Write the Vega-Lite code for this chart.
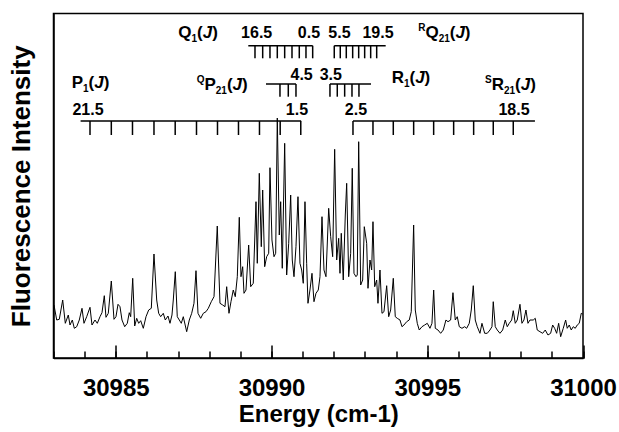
{
  "$schema": "https://vega.github.io/schema/vega-lite/v6.json",
  "width": 529.5,
  "height": 344.5,
  "autosize": {"type": "none"},
  "padding": {"left": 53.5, "top": 13.5, "right": 36, "bottom": 74},
  "background": "white",
  "config": {
    "font": "Liberation Sans",
    "view": {"stroke": "black", "strokeWidth": 1.5},
    "axis": {"domainColor": "black", "domainWidth": 1.5, "tickColor": "black", "tickWidth": 1.5, "labelColor": "black", "titleColor": "black", "grid": false}
  },
  "resolve": {"scale": {"x": "shared", "y": "shared"}, "axis": {"x": "independent"}},
  "datasets": {
    "spectrum": [
      {"energy": 30983.016, "intensity": 53}, {"energy": 30983.103, "intensity": 38}, {"energy": 30983.186, "intensity": 38.7}, {"energy": 30983.295, "intensity": 58},
      {"energy": 30983.379, "intensity": 34.7}, {"energy": 30983.475, "intensity": 43}, {"energy": 30983.530, "intensity": 33}, {"energy": 30983.604, "intensity": 38},
      {"energy": 30983.668, "intensity": 29.7}, {"energy": 30983.745, "intensity": 31.3}, {"energy": 30983.828, "intensity": 38}, {"energy": 30983.915, "intensity": 49.7},
      {"energy": 30983.979, "intensity": 34.7}, {"energy": 30984.066, "intensity": 41.3}, {"energy": 30984.172, "intensity": 50.7}, {"energy": 30984.236, "intensity": 33},
      {"energy": 30984.332, "intensity": 38}, {"energy": 30984.406, "intensity": 34.7}, {"energy": 30984.493, "intensity": 41.3}, {"energy": 30984.557, "intensity": 45.3},
      {"energy": 30984.631, "intensity": 62.3}, {"energy": 30984.685, "intensity": 40.7}, {"energy": 30984.759, "intensity": 44.7}, {"energy": 30984.856, "intensity": 77},
      {"energy": 30984.942, "intensity": 38.7}, {"energy": 30985.006, "intensity": 41.3}, {"energy": 30985.071, "intensity": 53.7}, {"energy": 30985.135, "intensity": 51.3},
      {"energy": 30985.199, "intensity": 38}, {"energy": 30985.286, "intensity": 31.3}, {"energy": 30985.369, "intensity": 34.7}, {"energy": 30985.433, "intensity": 45.3},
      {"energy": 30985.478, "intensity": 41.3}, {"energy": 30985.543, "intensity": 79.7}, {"energy": 30985.607, "intensity": 32}, {"energy": 30985.671, "intensity": 39.7},
      {"energy": 30985.735, "intensity": 34.7}, {"energy": 30985.799, "intensity": 37.3}, {"energy": 30985.883, "intensity": 29.7}, {"energy": 30985.970, "intensity": 41.3},
      {"energy": 30986.056, "intensity": 48}, {"energy": 30986.140, "intensity": 49.7}, {"energy": 30986.226, "intensity": 104}, {"energy": 30986.313, "intensity": 58},
      {"energy": 30986.377, "intensity": 44.7}, {"energy": 30986.441, "intensity": 41.3}, {"energy": 30986.525, "intensity": 44.7}, {"energy": 30986.589, "intensity": 38},
      {"energy": 30986.676, "intensity": 42}, {"energy": 30986.740, "intensity": 34.7}, {"energy": 30986.804, "intensity": 43}, {"energy": 30986.846, "intensity": 58},
      {"energy": 30986.910, "intensity": 86.3}, {"energy": 30986.974, "intensity": 41.3}, {"energy": 30987.039, "intensity": 38}, {"energy": 30987.103, "intensity": 34.7},
      {"energy": 30987.167, "intensity": 41.3}, {"energy": 30987.276, "intensity": 26.3}, {"energy": 30987.360, "intensity": 38}, {"energy": 30987.437, "intensity": 44.7},
      {"energy": 30987.510, "intensity": 54.7}, {"energy": 30987.575, "intensity": 87.3}, {"energy": 30987.639, "intensity": 44.7}, {"energy": 30987.726, "intensity": 39.7},
      {"energy": 30987.809, "intensity": 44.7}, {"energy": 30987.896, "intensity": 46.3}, {"energy": 30987.970, "intensity": 49.7}, {"energy": 30988.066, "intensity": 56.3},
      {"energy": 30988.153, "intensity": 61.3}, {"energy": 30988.258, "intensity": 132}, {"energy": 30988.345, "intensity": 54.7}, {"energy": 30988.432, "intensity": 53},
      {"energy": 30988.506, "intensity": 51.3}, {"energy": 30988.560, "intensity": 71.3}, {"energy": 30988.634, "intensity": 44.7}, {"energy": 30988.698, "intensity": 56.3},
      {"energy": 30988.772, "intensity": 68}, {"energy": 30988.836, "intensity": 61.3}, {"energy": 30988.901, "intensity": 81.3}, {"energy": 30988.965, "intensity": 140.7},
      {"energy": 30989.019, "intensity": 81.3}, {"energy": 30989.074, "intensity": 91.3}, {"energy": 30989.116, "intensity": 64.7}, {"energy": 30989.180, "intensity": 68},
      {"energy": 30989.266, "intensity": 113}, {"energy": 30989.331, "intensity": 71.3}, {"energy": 30989.414, "intensity": 74.7}, {"energy": 30989.501, "intensity": 156.3},
      {"energy": 30989.543, "intensity": 94.7}, {"energy": 30989.607, "intensity": 184.7}, {"energy": 30989.671, "intensity": 111.3}, {"energy": 30989.716, "intensity": 168},
      {"energy": 30989.780, "intensity": 91.3}, {"energy": 30989.844, "intensity": 101.3}, {"energy": 30989.909, "intensity": 104.7}, {"energy": 30989.950, "intensity": 190.3},
      {"energy": 30990.014, "intensity": 118}, {"energy": 30990.079, "intensity": 101.3}, {"energy": 30990.133, "intensity": 104.7}, {"energy": 30990.185, "intensity": 240},
      {"energy": 30990.249, "intensity": 123}, {"energy": 30990.294, "intensity": 156.3}, {"energy": 30990.345, "intensity": 89.7}, {"energy": 30990.422, "intensity": 214.7},
      {"energy": 30990.486, "intensity": 83}, {"energy": 30990.551, "intensity": 114.7}, {"energy": 30990.615, "intensity": 163}, {"energy": 30990.666, "intensity": 98},
      {"energy": 30990.721, "intensity": 81.3}, {"energy": 30990.785, "intensity": 111.3}, {"energy": 30990.849, "intensity": 161.3}, {"energy": 30990.913, "intensity": 94.7},
      {"energy": 30990.968, "intensity": 88}, {"energy": 30991.019, "intensity": 74.7}, {"energy": 30991.074, "intensity": 156.3}, {"energy": 30991.128, "intensity": 94.7},
      {"energy": 30991.170, "intensity": 54.7}, {"energy": 30991.234, "intensity": 68}, {"energy": 30991.299, "intensity": 84.7}, {"energy": 30991.363, "intensity": 56.3},
      {"energy": 30991.427, "intensity": 64.7}, {"energy": 30991.501, "intensity": 68}, {"energy": 30991.556, "intensity": 81.3}, {"energy": 30991.620, "intensity": 141.3},
      {"energy": 30991.684, "intensity": 88}, {"energy": 30991.748, "intensity": 81.3}, {"energy": 30991.835, "intensity": 149.7}, {"energy": 30991.899, "intensity": 121.3},
      {"energy": 30991.963, "intensity": 101.3}, {"energy": 30992.027, "intensity": 208.7}, {"energy": 30992.092, "intensity": 98}, {"energy": 30992.156, "intensity": 119.7},
      {"energy": 30992.198, "intensity": 84.7}, {"energy": 30992.239, "intensity": 124.7}, {"energy": 30992.303, "intensity": 78}, {"energy": 30992.368, "intensity": 143},
      {"energy": 30992.413, "intensity": 174.7}, {"energy": 30992.477, "intensity": 81.3}, {"energy": 30992.541, "intensity": 104.7}, {"energy": 30992.592, "intensity": 189.7},
      {"energy": 30992.647, "intensity": 84.7}, {"energy": 30992.711, "intensity": 81.3}, {"energy": 30992.753, "intensity": 83}, {"energy": 30992.798, "intensity": 216.3},
      {"energy": 30992.862, "intensity": 73}, {"energy": 30992.926, "intensity": 78}, {"energy": 30992.978, "intensity": 131.3}, {"energy": 30993.055, "intensity": 114.7},
      {"energy": 30993.097, "intensity": 69.7}, {"energy": 30993.161, "intensity": 98}, {"energy": 30993.215, "intensity": 88}, {"energy": 30993.257, "intensity": 136.3},
      {"energy": 30993.312, "intensity": 71.3}, {"energy": 30993.376, "intensity": 78}, {"energy": 30993.417, "intensity": 54.7}, {"energy": 30993.482, "intensity": 88},
      {"energy": 30993.546, "intensity": 44.7}, {"energy": 30993.610, "intensity": 46.3}, {"energy": 30993.697, "intensity": 72.3}, {"energy": 30993.761, "intensity": 41.3},
      {"energy": 30993.825, "intensity": 48}, {"energy": 30993.909, "intensity": 79.7}, {"energy": 30993.973, "intensity": 41.3}, {"energy": 30994.037, "intensity": 39.7},
      {"energy": 30994.124, "intensity": 38}, {"energy": 30994.188, "intensity": 31.3}, {"energy": 30994.252, "intensity": 33}, {"energy": 30994.339, "intensity": 36.3},
      {"energy": 30994.422, "intensity": 38}, {"energy": 30994.486, "intensity": 46.3}, {"energy": 30994.563, "intensity": 133}, {"energy": 30994.615, "intensity": 48},
      {"energy": 30994.679, "intensity": 34.7}, {"energy": 30994.743, "intensity": 28}, {"energy": 30994.830, "intensity": 31.3}, {"energy": 30994.917, "intensity": 33},
      {"energy": 30995.000, "intensity": 34.7}, {"energy": 30995.087, "intensity": 29.7}, {"energy": 30995.151, "intensity": 34.7}, {"energy": 30995.206, "intensity": 68},
      {"energy": 30995.257, "intensity": 29.7}, {"energy": 30995.344, "intensity": 28}, {"energy": 30995.430, "intensity": 24.7}, {"energy": 30995.514, "intensity": 28},
      {"energy": 30995.600, "intensity": 38}, {"energy": 30995.665, "intensity": 36.3}, {"energy": 30995.751, "intensity": 38}, {"energy": 30995.825, "intensity": 65.3},
      {"energy": 30995.899, "intensity": 38}, {"energy": 30995.963, "intensity": 41.3}, {"energy": 30996.028, "intensity": 31.3}, {"energy": 30996.114, "intensity": 29.7},
      {"energy": 30996.201, "intensity": 31.3}, {"energy": 30996.265, "intensity": 29.7}, {"energy": 30996.348, "intensity": 34.7}, {"energy": 30996.413, "intensity": 48},
      {"energy": 30996.477, "intensity": 72.3}, {"energy": 30996.541, "intensity": 38}, {"energy": 30996.605, "intensity": 31.3}, {"energy": 30996.692, "intensity": 24.7},
      {"energy": 30996.756, "intensity": 34.7}, {"energy": 30996.843, "intensity": 24.7}, {"energy": 30996.926, "intensity": 24.7}, {"energy": 30997.013, "intensity": 28},
      {"energy": 30997.077, "intensity": 31.3}, {"energy": 30997.119, "intensity": 56.3}, {"energy": 30997.183, "intensity": 31.3}, {"energy": 30997.247, "intensity": 28},
      {"energy": 30997.334, "intensity": 24.7}, {"energy": 30997.421, "intensity": 28}, {"energy": 30997.504, "intensity": 38}, {"energy": 30997.568, "intensity": 31.3},
      {"energy": 30997.633, "intensity": 34.7}, {"energy": 30997.710, "intensity": 38}, {"energy": 30997.761, "intensity": 47.3}, {"energy": 30997.825, "intensity": 34.7},
      {"energy": 30997.889, "intensity": 38}, {"energy": 30997.976, "intensity": 53.7}, {"energy": 30998.040, "intensity": 34.7}, {"energy": 30998.104, "intensity": 38},
      {"energy": 30998.168, "intensity": 48}, {"energy": 30998.233, "intensity": 34.7}, {"energy": 30998.297, "intensity": 38}, {"energy": 30998.403, "intensity": 38},
      {"energy": 30998.467, "intensity": 39.7}, {"energy": 30998.531, "intensity": 28}, {"energy": 30998.618, "intensity": 26.3}, {"energy": 30998.705, "intensity": 24.7},
      {"energy": 30998.788, "intensity": 28}, {"energy": 30998.875, "intensity": 23}, {"energy": 30998.961, "intensity": 24.7}, {"energy": 30999.026, "intensity": 33},
      {"energy": 30999.090, "intensity": 29.7}, {"energy": 30999.154, "intensity": 24.7}, {"energy": 30999.218, "intensity": 34.7}, {"energy": 30999.283, "intensity": 21.3},
      {"energy": 30999.366, "intensity": 29.7}, {"energy": 30999.443, "intensity": 38}, {"energy": 30999.494, "intensity": 29.7}, {"energy": 30999.559, "intensity": 33},
      {"energy": 30999.623, "intensity": 28}, {"energy": 30999.687, "intensity": 31.3}, {"energy": 30999.751, "intensity": 29.7}, {"energy": 30999.815, "intensity": 33},
      {"energy": 30999.880, "intensity": 34.7}, {"energy": 30999.944, "intensity": 44.7}, {"energy": 30999.989, "intensity": 44}
    ],
    "combs": [
      {"branch": "P1", "start": 30983.87, "end": 30990.95, "level": 237},
      {"branch": "R1", "start": 30992.615, "end": 30998.457, "level": 237},
      {"branch": "Q1", "start": 30989.254, "end": 30991.321, "level": 312.3},
      {"branch": "RQ21", "start": 30992.014, "end": 30993.665, "level": 312.3},
      {"branch": "QP21", "start": 30989.822, "end": 30990.785, "level": 274},
      {"branch": "R1b", "start": 30991.876, "end": 30993.193, "level": 274}
    ],
    "lines": [
      {"branch": "P1", "energy": 30984.172, "top": 237, "bottom": 223}, {"branch": "P1", "energy": 30984.856, "top": 237, "bottom": 223},
      {"branch": "P1", "energy": 30985.536, "top": 237, "bottom": 223}, {"branch": "P1", "energy": 30986.226, "top": 237, "bottom": 223},
      {"branch": "P1", "energy": 30986.907, "top": 237, "bottom": 223}, {"branch": "P1", "energy": 30987.591, "top": 237, "bottom": 223},
      {"branch": "P1", "energy": 30988.265, "top": 237, "bottom": 223}, {"branch": "P1", "energy": 30988.939, "top": 237, "bottom": 223},
      {"branch": "P1", "energy": 30989.613, "top": 237, "bottom": 223}, {"branch": "P1", "energy": 30990.278, "top": 237, "bottom": 223},
      {"branch": "P1", "energy": 30990.939, "top": 237, "bottom": 223},
      {"branch": "R1", "energy": 30992.615, "top": 237, "bottom": 223}, {"branch": "R1", "energy": 30993.257, "top": 237, "bottom": 223},
      {"branch": "R1", "energy": 30993.909, "top": 237, "bottom": 223}, {"branch": "R1", "energy": 30994.563, "top": 237, "bottom": 223},
      {"branch": "R1", "energy": 30995.205, "top": 237, "bottom": 223}, {"branch": "R1", "energy": 30995.847, "top": 237, "bottom": 223},
      {"branch": "R1", "energy": 30996.489, "top": 237, "bottom": 223}, {"branch": "R1", "energy": 30997.119, "top": 237, "bottom": 223},
      {"branch": "R1", "energy": 30997.761, "top": 237, "bottom": 223},
      {"branch": "Q1", "energy": 30989.469, "top": 312.3, "bottom": 299.7}, {"branch": "Q1", "energy": 30989.716, "top": 312.3, "bottom": 299.7},
      {"branch": "Q1", "energy": 30989.950, "top": 312.3, "bottom": 299.7}, {"branch": "Q1", "energy": 30990.185, "top": 312.3, "bottom": 299.7},
      {"branch": "Q1", "energy": 30990.422, "top": 312.3, "bottom": 299.7}, {"branch": "Q1", "energy": 30990.657, "top": 312.3, "bottom": 299.7},
      {"branch": "Q1", "energy": 30990.891, "top": 312.3, "bottom": 299.7}, {"branch": "Q1", "energy": 30991.106, "top": 312.3, "bottom": 299.7},
      {"branch": "Q1", "energy": 30991.321, "top": 312.3, "bottom": 299.7},
      {"branch": "RQ21", "energy": 30992.014, "top": 312.3, "bottom": 299.7}, {"branch": "RQ21", "energy": 30992.207, "top": 312.3, "bottom": 299.7},
      {"branch": "RQ21", "energy": 30992.400, "top": 312.3, "bottom": 299.7}, {"branch": "RQ21", "energy": 30992.605, "top": 312.3, "bottom": 299.7},
      {"branch": "RQ21", "energy": 30992.798, "top": 312.3, "bottom": 299.7}, {"branch": "RQ21", "energy": 30992.990, "top": 312.3, "bottom": 299.7},
      {"branch": "RQ21", "energy": 30993.183, "top": 312.3, "bottom": 299.7}, {"branch": "RQ21", "energy": 30993.376, "top": 312.3, "bottom": 299.7},
      {"branch": "QP21", "energy": 30990.271, "top": 274, "bottom": 261.3}, {"branch": "QP21", "energy": 30990.538, "top": 274, "bottom": 261.3},
      {"branch": "QP21", "energy": 30990.785, "top": 274, "bottom": 261.3},
      {"branch": "R1b", "energy": 30991.876, "top": 274, "bottom": 261.3}, {"branch": "R1b", "energy": 30992.111, "top": 274, "bottom": 261.3},
      {"branch": "R1b", "energy": 30992.348, "top": 274, "bottom": 261.3}, {"branch": "R1b", "energy": 30992.583, "top": 274, "bottom": 261.3},
      {"branch": "R1b", "energy": 30992.807, "top": 274, "bottom": 261.3}
    ],
    "jvalues": [
      {"text": "21.5", "energy": 30984.108, "intensity": 243},
      {"text": "1.5", "energy": 30990.817, "intensity": 243},
      {"text": "2.5", "energy": 30992.711, "intensity": 243},
      {"text": "18.5", "energy": 30997.783, "intensity": 243},
      {"text": "16.5", "energy": 30989.523, "intensity": 319.7},
      {"text": "0.5", "energy": 30991.202, "intensity": 319.7},
      {"text": "5.5", "energy": 30992.181, "intensity": 319.7},
      {"text": "19.5", "energy": 30993.417, "intensity": 319.7},
      {"text": "4.5", "energy": 30990.967, "intensity": 278},
      {"text": "3.5", "energy": 30991.902, "intensity": 278}
    ],
    "names": [
      {"branch": "Q1", "part": "main", "text": "Q", "energy": 30987.006, "intensity": 320.5},
      {"branch": "Q1", "part": "index", "text": "1", "energy": 30987.430, "intensity": 316.5},
      {"branch": "Q1", "part": "main", "text": "(", "energy": 30987.610, "intensity": 320.5},
      {"branch": "Q1", "part": "variable", "text": "J", "energy": 30987.793, "intensity": 320.5},
      {"branch": "Q1", "part": "main", "text": ")", "energy": 30988.098, "intensity": 320.5},
      {"branch": "RQ21", "part": "index", "text": "R", "energy": 30994.711, "intensity": 327.5},
      {"branch": "RQ21", "part": "main", "text": "Q", "energy": 30994.942, "intensity": 320.5},
      {"branch": "RQ21", "part": "index", "text": "21", "energy": 30995.366, "intensity": 316.5},
      {"branch": "RQ21", "part": "main", "text": "(", "energy": 30995.722, "intensity": 320.5},
      {"branch": "RQ21", "part": "variable", "text": "J", "energy": 30995.905, "intensity": 320.5},
      {"branch": "RQ21", "part": "main", "text": ")", "energy": 30996.207, "intensity": 320.5},
      {"branch": "P1", "part": "main", "text": "P", "energy": 30983.584, "intensity": 269.7},
      {"branch": "P1", "part": "index", "text": "1", "energy": 30983.947, "intensity": 265.7},
      {"branch": "P1", "part": "main", "text": "(", "energy": 30984.127, "intensity": 269.7},
      {"branch": "P1", "part": "variable", "text": "J", "energy": 30984.310, "intensity": 269.7},
      {"branch": "P1", "part": "main", "text": ")", "energy": 30984.612, "intensity": 269.7},
      {"branch": "QP21", "part": "index", "text": "Q", "energy": 30987.597, "intensity": 275},
      {"branch": "QP21", "part": "main", "text": "P", "energy": 30987.848, "intensity": 268},
      {"branch": "QP21", "part": "index", "text": "21", "energy": 30988.210, "intensity": 264},
      {"branch": "QP21", "part": "main", "text": "(", "energy": 30988.567, "intensity": 268},
      {"branch": "QP21", "part": "variable", "text": "J", "energy": 30988.750, "intensity": 268},
      {"branch": "QP21", "part": "main", "text": ")", "energy": 30989.051, "intensity": 268},
      {"branch": "R1", "part": "main", "text": "R", "energy": 30993.857, "intensity": 274.7},
      {"branch": "R1", "part": "index", "text": "1", "energy": 30994.252, "intensity": 270.7},
      {"branch": "R1", "part": "main", "text": "(", "energy": 30994.429, "intensity": 274.7},
      {"branch": "R1", "part": "variable", "text": "J", "energy": 30994.612, "intensity": 274.7},
      {"branch": "R1", "part": "main", "text": ")", "energy": 30994.913, "intensity": 274.7},
      {"branch": "SR21", "part": "index", "text": "S", "energy": 30996.852, "intensity": 275},
      {"branch": "SR21", "part": "main", "text": "R", "energy": 30997.067, "intensity": 268},
      {"branch": "SR21", "part": "index", "text": "21", "energy": 30997.462, "intensity": 264},
      {"branch": "SR21", "part": "main", "text": "(", "energy": 30997.819, "intensity": 268},
      {"branch": "SR21", "part": "variable", "text": "J", "energy": 30997.998, "intensity": 268},
      {"branch": "SR21", "part": "main", "text": ")", "energy": 30998.303, "intensity": 268}
    ]
  },
  "layer": [
    {
      "data": {"name": "spectrum"},
      "mark": {"type": "line", "color": "black", "strokeWidth": 1, "interpolate": "linear"},
      "encoding": {
        "x": {"field": "energy", "type": "quantitative",
          "scale": {"domain": [30983, 31000], "nice": false, "zero": false},
          "axis": {
            "orient": "bottom",
            "title": "Energy (cm-1)", "titleFontSize": 24, "titleFontWeight": "bold", "titlePadding": 2,
            "values": [30985, 30990, 30995, 31000], "format": "d",
            "labelFontSize": 24, "labelFontWeight": "bold", "labelOverlap": false, "labelFlush": false,
            "tickSize": -13, "labelPadding": 31
          }
        },
        "y": {"field": "intensity", "type": "quantitative",
          "scale": {"domain": [0, 344.5], "nice": false, "zero": false},
          "axis": {"title": "Fluorescence Intensity", "titleFontSize": 26, "titleFontWeight": "bold", "labels": false, "ticks": false, "titlePadding": 19}
        }
      }
    },
    {
      "data": {"name": "combs"},
      "mark": {"type": "rule", "color": "black", "strokeWidth": 1.5},
      "encoding": {
        "x": {"field": "start", "type": "quantitative",
          "axis": {"orient": "bottom", "title": null, "values": [30983, 30984, 30985, 30986, 30987, 30988, 30989, 30990, 30991, 30992, 30993, 30994, 30995, 30996, 30997, 30998, 30999, 31000],
            "labels": false, "domain": false, "tickSize": -7}
        },
        "x2": {"field": "end"},
        "y": {"field": "level", "type": "quantitative"}
      }
    },
    {
      "data": {"name": "lines"},
      "mark": {"type": "rule", "color": "black", "strokeWidth": 1.5},
      "encoding": {
        "x": {"field": "energy", "type": "quantitative", "axis": null},
        "y": {"field": "top", "type": "quantitative"},
        "y2": {"field": "bottom"}
      }
    },
    {
      "data": {"name": "jvalues"},
      "mark": {"type": "text", "align": "center", "baseline": "alphabetic", "fontSize": 16, "fontWeight": "bold", "color": "black"},
      "encoding": {
        "x": {"field": "energy", "type": "quantitative", "axis": null},
        "y": {"field": "intensity", "type": "quantitative"},
        "text": {"field": "text"}
      }
    },
    {
      "data": {"name": "names"},
      "transform": [{"filter": "datum.part === 'main'"}],
      "mark": {"type": "text", "align": "left", "baseline": "alphabetic", "fontSize": 17, "fontWeight": "bold", "color": "black"},
      "encoding": {
        "x": {"field": "energy", "type": "quantitative", "axis": null},
        "y": {"field": "intensity", "type": "quantitative"},
        "text": {"field": "text"}
      }
    },
    {
      "data": {"name": "names"},
      "transform": [{"filter": "datum.part === 'variable'"}],
      "mark": {"type": "text", "align": "left", "baseline": "alphabetic", "fontSize": 17, "fontWeight": "bold", "fontStyle": "italic", "color": "black"},
      "encoding": {
        "x": {"field": "energy", "type": "quantitative", "axis": null},
        "y": {"field": "intensity", "type": "quantitative"},
        "text": {"field": "text"}
      }
    },
    {
      "data": {"name": "names"},
      "transform": [{"filter": "datum.part === 'index'"}],
      "mark": {"type": "text", "align": "left", "baseline": "alphabetic", "fontSize": 10, "fontWeight": "bold", "color": "black"},
      "encoding": {
        "x": {"field": "energy", "type": "quantitative", "axis": null},
        "y": {"field": "intensity", "type": "quantitative"},
        "text": {"field": "text"}
      }
    }
  ]
}
